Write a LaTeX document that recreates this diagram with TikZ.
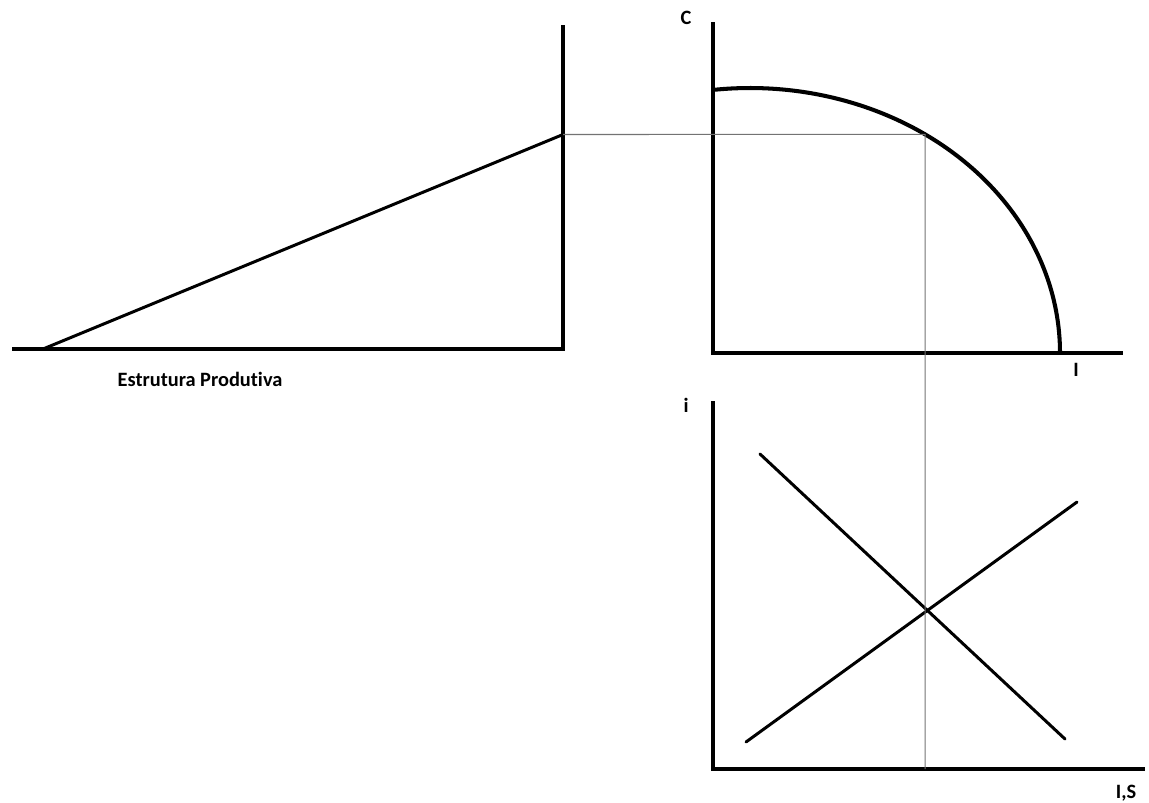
\documentclass[tikz,border=0pt]{standalone}
\usepackage{fontspec}
\setmainfont[Ligatures=NoCommon]{Carlito}
\usetikzlibrary{positioning,calc}

\begin{document}
\begin{tikzpicture}[x=0.02cm,y=-0.02cm,
    axis/.style={line width=2.6pt},
    curva/.style={line width=2.3pt},
    reta/.style={line width=1.7pt,line cap=round},
    guia/.style={line width=0.6pt,black!55},
    rotulo/.style={font=\bfseries\fontsize{11.6}{13}\selectfont,inner sep=0pt}]
                \useasboundingbox (0,0) rectangle (1149,802);

                % Estrutura produtiva (left panel)
                \coordinate (eo) at (563,349);
                \coordinate (ex) at (12,349);
                \coordinate (ey) at (563,25);
                \coordinate (ea) at (43,349);
                \coordinate (eb) at (563,134.5);
                \draw[axis] (ex) -- (eo) -- (ey);
                \draw[reta] (ea) -- (eb);
                \node[rotulo] (lab) at (200,379) {Estrutura Produtiva};

                % Fronteira C x I (top right)
                \coordinate (co) at (713,353);
                \coordinate (cy) at (713,22);
                \coordinate (cx) at (1123,353);
                \draw[axis] (cy) -- (co) -- (cx);
                \coordinate (cc) at (750,353);
                \coordinate (c0) at ($(cc)+({310*cos(96.5)},{-265*sin(96.5)})$);
                \coordinate (ce) at ($(cc)+({310*cos(55.6)},{-265*sin(55.6)})$);
                \draw[curva] (c0) arc[start angle=96.5,end angle=0,x radius=310,y radius=-265];
                \node[rotulo] (lC) at (686,18) {C};
                \node[rotulo] (lI) at (1076,370) {I};

                % Mercado I,S (bottom right)
                \coordinate (mo) at (713,769);
                \coordinate (my) at (713,401);
                \coordinate (mx) at (1145,769);
                \draw[axis] (my) -- (mo) -- (mx);
                \coordinate (i1) at (760,454);
                \coordinate (i2) at (1065,739);
                \coordinate (s1) at (746,742);
                \coordinate (s2) at (1077,502);
                \draw[reta] (i1) -- (i2);
                \draw[reta] (s1) -- (s2);
                \node[rotulo] (li) at (686,405) {i};
                \node[rotulo] (lIS) at (1126,793) {I,S};

                % Linhas guia
                \coordinate (gb) at (ce |- mo);
                \draw[guia] (eb) -- (ce) -- (gb);
            \end{tikzpicture}
\end{document}
